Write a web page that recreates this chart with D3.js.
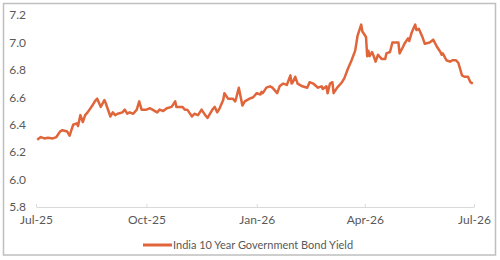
<!DOCTYPE html>
<html>
<head>
<meta charset="utf-8">
<script src="https://cdn.jsdelivr.net/npm/d3@7"></script>
<style>
  body { margin: 0; background: #ffffff; }
</style>
</head>
<body>
<div id="chart"></div>
<script>
// daily-ish readings of the 10y yield
var dates = ["2025-07-02","2025-07-05","2025-07-08","2025-07-11","2025-07-15","2025-07-18","2025-07-21","2025-07-23","2025-07-27","2025-07-29",
  "2025-08-01","2025-08-04","2025-08-05","2025-08-07","2025-08-09","2025-08-11","2025-08-13","2025-08-17","2025-08-19","2025-08-21",
  "2025-08-24","2025-08-27","2025-08-28","2025-09-01","2025-09-03","2025-09-05","2025-09-07","2025-09-11","2025-09-13","2025-09-15",
  "2025-09-17","2025-09-20","2025-09-23","2025-09-25","2025-09-27","2025-10-01","2025-10-04","2025-10-06","2025-10-10","2025-10-12",
  "2025-10-15","2025-10-18","2025-10-22","2025-10-25","2025-10-26","2025-10-31","2025-11-02","2025-11-04","2025-11-08","2025-11-10",
  "2025-11-13","2025-11-16","2025-11-19","2025-11-21","2025-11-25","2025-11-27","2025-11-29","2025-12-01","2025-12-04","2025-12-05",
  "2025-12-08","2025-12-12","2025-12-14","2025-12-15","2025-12-17","2025-12-20","2025-12-22","2025-12-26","2025-12-29","2026-01-01",
  "2026-01-04","2026-01-05","2026-01-06","2026-01-09","2026-01-12","2026-01-14","2026-01-18","2026-01-20","2026-01-23","2026-01-26",
  "2026-01-29","2026-01-30","2026-01-31","2026-02-02","2026-02-04","2026-02-08","2026-02-12","2026-02-14","2026-02-17","2026-02-21",
  "2026-02-24","2026-02-25","2026-02-28","2026-03-01","2026-03-03","2026-03-05","2026-03-06","2026-03-09","2026-03-13","2026-03-15",
  "2026-03-18","2026-03-21","2026-03-24","2026-03-26","2026-03-29","2026-03-30","2026-04-02","2026-04-03","2026-04-04","2026-04-05",
  "2026-04-07","2026-04-08","2026-04-10","2026-04-12","2026-04-15","2026-04-18","2026-04-19","2026-04-22","2026-04-24","2026-04-29",
  "2026-04-30","2026-05-03","2026-05-04","2026-05-07","2026-05-08","2026-05-10","2026-05-13","2026-05-14","2026-05-16","2026-05-19",
  "2026-05-21","2026-05-25","2026-05-28","2026-05-31","2026-06-03","2026-06-04","2026-06-05","2026-06-08","2026-06-11","2026-06-13",
  "2026-06-16","2026-06-18","2026-06-21","2026-06-23","2026-06-26","2026-06-28","2026-06-30"]

var yields = [6.29,6.31,6.30,6.305,6.30,6.31,6.35,6.36,6.35,6.32,
  6.40,6.41,6.39,6.47,6.42,6.47,6.49,6.54,6.57,6.59,
  6.53,6.58,6.56,6.46,6.49,6.47,6.48,6.49,6.51,6.48,
  6.49,6.48,6.51,6.57,6.51,6.51,6.52,6.51,6.49,6.51,
  6.50,6.52,6.53,6.57,6.53,6.53,6.51,6.51,6.46,6.48,
  6.47,6.51,6.47,6.45,6.51,6.53,6.49,6.52,6.58,6.63,
  6.59,6.59,6.57,6.60,6.67,6.54,6.57,6.59,6.60,6.63,
  6.62,6.64,6.63,6.67,6.68,6.67,6.63,6.68,6.70,6.69,
  6.76,6.70,6.71,6.75,6.70,6.68,6.67,6.71,6.70,6.67,
  6.68,6.66,6.68,6.63,6.70,6.71,6.63,6.67,6.71,6.74,
  6.81,6.87,6.94,7.05,7.13,7.08,7.04,6.90,6.94,6.90,
  6.93,6.91,6.86,6.91,6.88,6.88,6.92,6.93,7.00,7.00,
  6.92,6.97,6.99,7.03,7.01,7.07,7.13,7.09,7.10,7.04,
  6.99,7.00,7.02,6.97,6.93,6.91,6.92,6.87,6.86,6.87,
  6.87,6.85,6.76,6.75,6.75,6.71,6.70]

var yTicks = [5.8, 6.0, 6.2, 6.4, 6.6, 6.8, 7.0, 7.2]
var xTicks = ["2025-07-01","2025-10-01","2026-01-01","2026-04-01","2026-07-01"]
var seriesName = "India 10 Year Government Bond Yield"

var parse = d3.timeParse("%Y-%m-%d")
var data = dates.map(function(d, i) { return { date: parse(d), value: yields[i] } })

var lineColor = "#e0653a"
var textColor = "#595959"
var font = "Lato, 'Open Sans', sans-serif"

var svg = d3.select("#chart")
            .append("svg")
            .attr("width", 500)
            .attr("height", 260)
            .style("font-family", font)

// outer frame
svg.append("rect")
    .attr("x", 3.5)
    .attr("y", 3.5)
    .attr("width", 492)
    .attr("height", 251.5)
    .attr("fill", "#ffffff")
    .attr("stroke", "#bfbfbf")
    .attr("stroke-width", 1.5)

var x = d3.scaleTime()
          .domain([parse("2025-07-01"), parse("2026-07-01")])
          .range([36, 474])

var y = d3.scaleLinear()
          .domain([5.8, 7.2])
          .range([207, 15])

// y labels, no axis line
var yAxis = svg.append("g")
               .attr("transform", "translate(36,0)")
               .call(d3.axisLeft(y).tickValues(yTicks).tickFormat(d3.format(".1f")).tickSize(0).tickPadding(10))
yAxis.select(".domain").remove()
yAxis.selectAll("text")
     .attr("fill", textColor)
     .attr("font-size", "12px")
     .attr("font-family", font)

// x axis with short ticks pointing up
var xAxis = svg.append("g")
               .attr("transform", "translate(0,207)")
               .call(d3.axisBottom(x).tickValues(xTicks.map(parse)).tickFormat(d3.timeFormat("%b-%y")).tickSizeInner(-3).tickSizeOuter(0).tickPadding(8))
xAxis.select(".domain").attr("stroke", "#d9d9d9")
xAxis.selectAll(".tick line").attr("stroke", "#d9d9d9")
xAxis.selectAll("text")
     .attr("fill", textColor)
     .attr("font-size", "12px")
     .attr("font-family", font)

var line = d3.line()
             .x(function(d) { return x(d.date) })
             .y(function(d) { return y(d.value) })

svg.append("path")
    .datum(data)
    .attr("d", line)
    .attr("fill", "none")
    .attr("stroke", lineColor)
    .attr("stroke-width", 2.5)
    .attr("stroke-linejoin", "round")

// legend
var legend = svg.append("g")
legend.append("line")
      .attr("x1", 143)
      .attr("x2", 172)
      .attr("y1", 245)
      .attr("y2", 245)
      .attr("stroke", lineColor)
      .attr("stroke-width", 3)
legend.append("text")
      .attr("x", 173)
      .attr("y", 249)
      .text(seriesName)
      .attr("fill", textColor)
      .attr("font-size", "11px")
</script>
</body>
</html>
